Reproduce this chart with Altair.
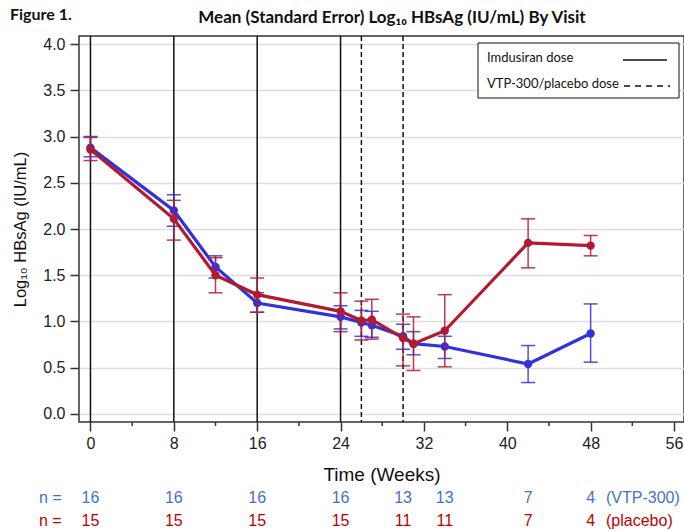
import altair as alt
import pandas as pd

# ---- data ----
weeks = [0, 8, 12, 16, 24, 26, 27, 30, 31, 34, 42, 48]
vtp_mean = [2.88, 2.20, 1.59, 1.20, 1.05, 0.99, 0.96, 0.84, 0.76, 0.73, 0.54, 0.87]
vtp_hi = [3.00, 2.37, 1.71, 1.31, 1.17, 1.12, 1.11, 0.97, 0.89, 0.84, 0.74, 1.19]
vtp_lo = [2.78, 2.03, 1.47, 1.10, 0.92, 0.84, 0.83, 0.70, 0.64, 0.60, 0.34, 0.56]
pbo_mean = [2.86, 2.11, 1.50, 1.29, 1.11, 1.01, 1.02, 0.82, 0.76, 0.90, 1.85, 1.82]
pbo_hi = [2.99, 2.31, 1.69, 1.47, 1.31, 1.22, 1.24, 1.08, 1.05, 1.29, 2.11, 1.93]
pbo_lo = [2.74, 1.88, 1.31, 1.10, 0.89, 0.80, 0.81, 0.52, 0.47, 0.51, 1.58, 1.71]

n_weeks = [0, 8, 16, 24, 30, 34, 42, 48]
n_vtp = [16, 16, 16, 16, 13, 13, 7, 4]
n_pbo = [15, 15, 15, 15, 11, 11, 7, 4]

imdusiran_weeks = [0, 8, 16, 24]
vtp_dose_weeks = [26, 30]
minor_weeks = [4, 12, 20, 28, 36, 44, 52]
x_ticks = [0, 8, 16, 24, 32, 40, 48, 56]
y_ticks = [0.0, 0.5, 1.0, 1.5, 2.0, 2.5, 3.0, 3.5, 4.0]

BLUE = "#3232DC"
RED = "#B21A30"
N_BLUE = "#4472C4"
N_RED = "#C00000"

W, H = 605, 386

xscale = alt.Scale(domain=[-1.1, 56.96], nice=False, zero=False)
yscale = alt.Scale(domain=[-0.0865, 4.0865], nice=False, zero=False)

xaxis = alt.Axis(values=x_ticks, grid=False, domain=False, tickSize=9, tickWidth=1.5,
                 tickColor="#333333", labelFontSize=16, labelColor="#222222",
                 labelFont="Liberation Sans", labelPadding=4, title="Time (Weeks)",
                 titleFont="Liberation Sans", titleFontSize=19, titleFontWeight="normal",
                 titleColor="#111111", titlePadding=14)
yaxis = alt.Axis(values=y_ticks, format=".1f", grid=True, gridColor="#DDDDDD", gridWidth=1.5,
                 domain=False, tickSize=9, tickWidth=1.5, tickColor="#333333",
                 labelFontSize=16, labelColor="#222222", labelFont="Liberation Sans",
                 labelPadding=5, title="Log₁₀ HBsAg (IU/mL)", titleFont="Liberation Sans",
                 titleFontSize=16.5, titleFontWeight="normal", titleColor="#111111",
                 titlePadding=14)


def X(field):
    return alt.X(field, type="quantitative", scale=xscale, axis=xaxis)


def Y(field):
    return alt.Y(field, type="quantitative", scale=yscale, axis=yaxis)


one = alt.Data(values=[{"a": 1}])

base_df = pd.DataFrame({"week": weeks, "mean": vtp_mean, "lo": vtp_lo, "hi": vtp_hi})

# vertical dose lines
solid_df = pd.DataFrame({"week": imdusiran_weeks})
dash_df = pd.DataFrame({"week": vtp_dose_weeks})
solid_lines = alt.Chart(solid_df).mark_rule(color="#111111", strokeWidth=1.5).encode(
    x=X("week"), y=alt.value(0), y2=alt.value(H))
dash_lines = alt.Chart(dash_df).mark_rule(color="#111111", strokeWidth=1.5,
                                          strokeDash=[5, 3]).encode(
    x=X("week"), y=alt.value(0), y2=alt.value(H))

# minor ticks on x axis
minor_df = pd.DataFrame({"week": minor_weeks})
minor = alt.Chart(minor_df).mark_rule(color="#333333", strokeWidth=1.5).encode(
    x=X("week"), y=alt.value(H), y2=alt.value(H + 4))

# gridline carrier layer (holds y axis)
grid_layer = alt.Chart(base_df).mark_point(opacity=0).encode(x=X("week"), y=Y("mean"))


def series_layers(mean, lo, hi, color):
    df = pd.DataFrame({"week": weeks, "mean": mean, "lo": lo, "hi": hi})
    c = alt.Chart(df)
    bars = c.mark_rule(color=color, strokeWidth=1.5, opacity=0.85).encode(
        x=X("week"), y=Y("lo"), y2="hi")
    cap_lo = c.mark_rule(color=color, strokeWidth=1.5, opacity=0.85,
                         xOffset=-7, x2Offset=7).encode(x=X("week"), x2="week", y=Y("lo"))
    cap_hi = c.mark_rule(color=color, strokeWidth=1.5, opacity=0.85,
                         xOffset=-7, x2Offset=7).encode(x=X("week"), x2="week", y=Y("hi"))
    line = c.mark_line(color=color, strokeWidth=3.2).encode(x=X("week"), y=Y("mean"))
    pts = c.mark_circle(color=color, size=70, opacity=1).encode(x=X("week"), y=Y("mean"))
    return [bars, cap_lo, cap_hi, line, pts]


blue_layers = series_layers(vtp_mean, vtp_lo, vtp_hi, BLUE)
red_layers = series_layers(pbo_mean, pbo_lo, pbo_hi, RED)

# legend box (manual)
leg_box = alt.Chart(one).mark_rect(fill="white", stroke="#111111", strokeWidth=1).encode(
    x=alt.value(399), x2=alt.value(600), y=alt.value(7), y2=alt.value(62))
leg_t1 = alt.Chart(one).mark_text(align="left", baseline="middle", font="Lato",
                                  fontSize=13, color="#111111").encode(
    x=alt.value(408), y=alt.value(22), text=alt.value("Imdusiran dose"))
leg_t2 = alt.Chart(one).mark_text(align="left", baseline="middle", font="Lato",
                                  fontSize=13, color="#111111").encode(
    x=alt.value(408), y=alt.value(48), text=alt.value("VTP-300/placebo dose"))
leg_l1 = alt.Chart(one).mark_rule(color="#111111", strokeWidth=1.5).encode(
    x=alt.value(544), x2=alt.value(588), y=alt.value(24))
leg_l2 = alt.Chart(one).mark_rule(color="#111111", strokeWidth=1.5, strokeDash=[6, 5]).encode(
    x=alt.value(545), x2=alt.value(591), y=alt.value(50))

# n-at-risk rows
n_df = pd.DataFrame({"week": n_weeks, "nv": [str(v) for v in n_vtp],
                     "np": [str(v) for v in n_pbo]})
n_blue = alt.Chart(n_df).mark_text(font="Liberation Sans", fontSize=16, color=N_BLUE,
                                   baseline="middle").encode(
    x=X("week"), y=alt.value(462), text="nv:N")
n_red = alt.Chart(n_df).mark_text(font="Liberation Sans", fontSize=16, color=N_RED,
                                  baseline="middle").encode(
    x=X("week"), y=alt.value(485), text="np:N")
n_lab_b = alt.Chart(one).mark_text(font="Liberation Sans", fontSize=16, color=N_BLUE,
                                   align="left", baseline="middle").encode(
    x=alt.value(-40), y=alt.value(462), text=alt.value("n ="))
n_lab_r = alt.Chart(one).mark_text(font="Liberation Sans", fontSize=16, color=N_RED,
                                   align="left", baseline="middle").encode(
    x=alt.value(-40), y=alt.value(485), text=alt.value("n ="))
n_grp_b = alt.Chart(one).mark_text(font="Liberation Sans", fontSize=16, color=N_BLUE,
                                   align="left", baseline="middle").encode(
    x=alt.value(527), y=alt.value(462), text=alt.value("(VTP-300)"))
n_grp_r = alt.Chart(one).mark_text(font="Liberation Sans", fontSize=16, color=N_RED,
                                   align="left", baseline="middle").encode(
    x=alt.value(527), y=alt.value(485), text=alt.value("(placebo)"))

# titles
fig_lab = alt.Chart(one).mark_text(font="Lato", fontSize=16, fontWeight="bold",
                                   color="#111111", align="left", baseline="middle").encode(
    x=alt.value(-69), y=alt.value(-21), text=alt.value("Figure 1."))
main_title = alt.Chart(one).mark_text(font="Lato", fontSize=17, fontWeight="bold",
                                      color="#111111", align="center", baseline="middle").encode(
    x=alt.value(313), y=alt.value(-18),
    text=alt.value("Mean (Standard Error) Log₁₀ HBsAg (IU/mL) By Visit"))

chart = alt.layer(
    grid_layer, solid_lines, dash_lines, minor,
    *blue_layers, *red_layers,
    leg_box, leg_t1, leg_t2, leg_l1, leg_l2,
    n_blue, n_red, n_lab_b, n_lab_r, n_grp_b, n_grp_r,
    fig_lab, main_title,
).properties(
    width=W, height=H,
    autosize=alt.AutoSizeParams(type="none"),
    padding={"left": 79, "top": 36, "right": 0, "bottom": 109},
    background="white",
).configure_view(stroke="#333333", strokeWidth=1.5)

chart.save("out.html", embed_options={"renderer": "svg", "actions": False})
